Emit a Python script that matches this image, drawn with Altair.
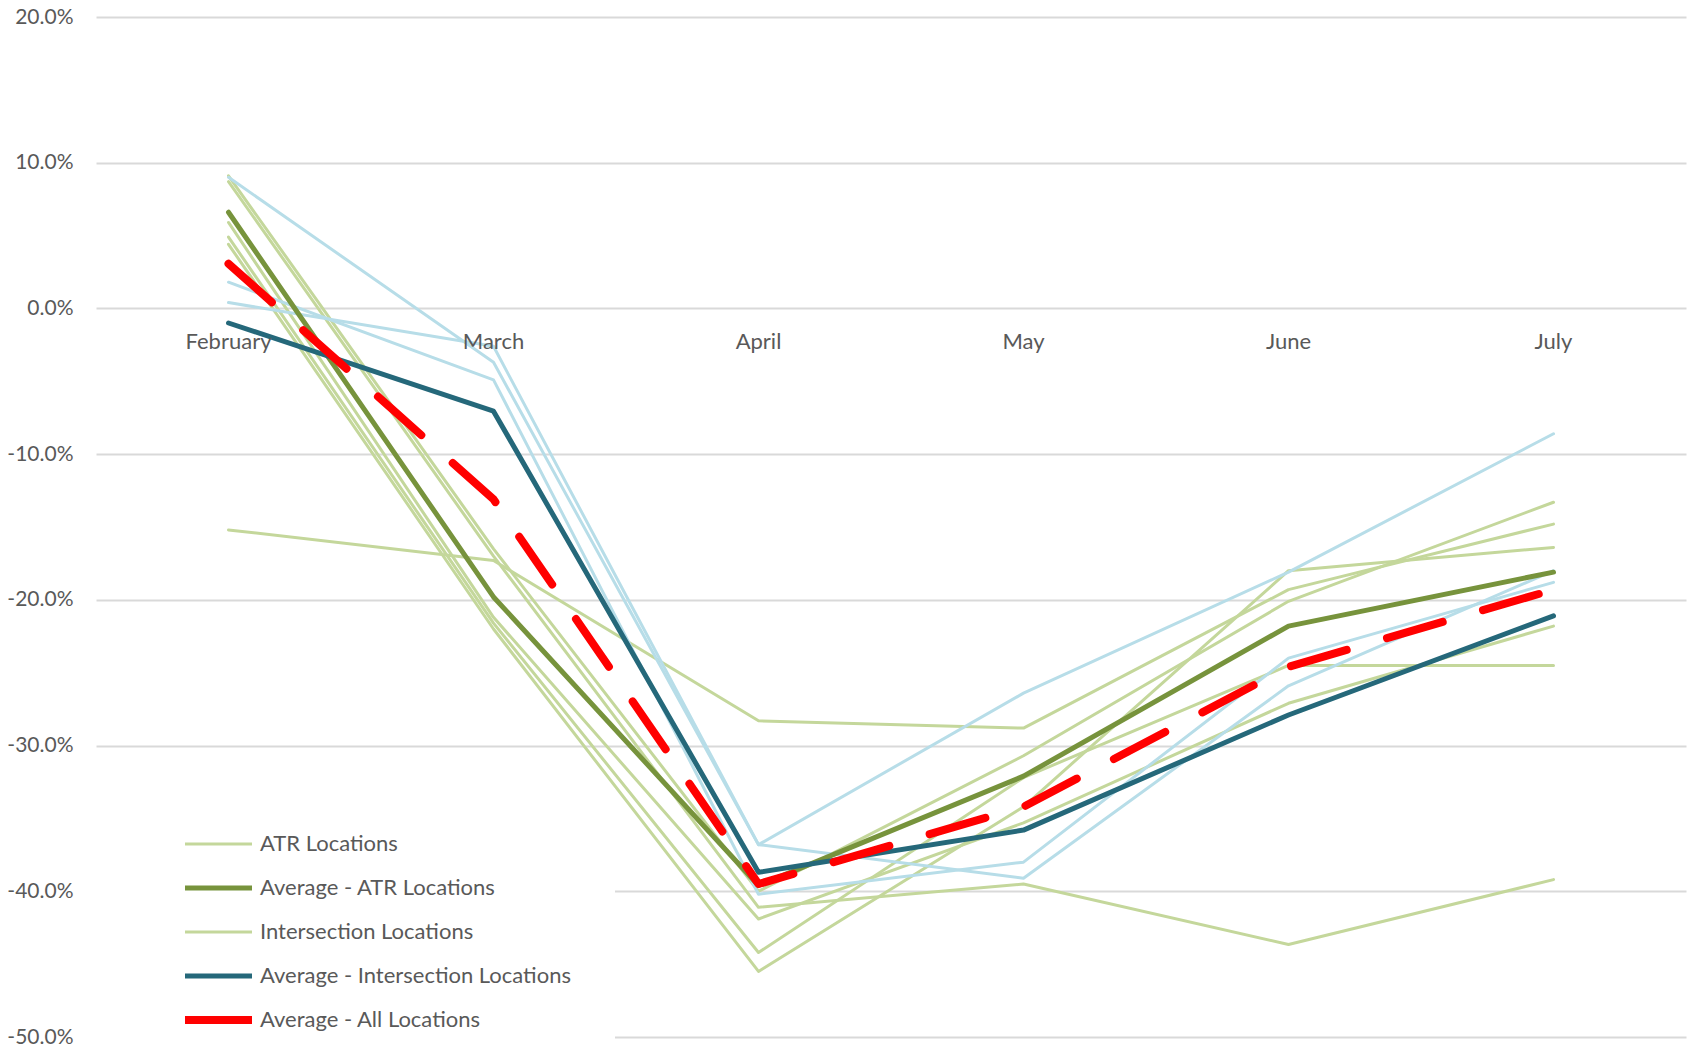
import altair as alt
import pandas as pd

months = ["February", "March", "April", "May", "June", "July"]

# Change in traffic volume versus the previous year, in percent
atr_a = [9.1, -16.5, -40.0, -30.7, -20.1, -13.3]
atr_b = [8.7, -17.0, -41.1, -39.5, -43.65, -39.2]
atr_c = [5.9, -21.2, -41.9, -35.3, -27.1, -21.8]
atr_d = [4.9, -21.6, -44.2, -32.2, -24.5, -24.5]
atr_e = [4.4, -22.0, -45.5, -34.2, -18.0, -16.4]

intersection_a = [-15.2, -17.3, -28.3, -28.8, -19.3, -14.8]
intersection_b = [9.0, -3.7, -36.8, -39.1, -25.9, -18.0]
intersection_c = [0.4, -2.6, -36.8, -26.4, -18.1, -8.6]
intersection_d = [1.8, -4.9, -40.2, -38.0, -24.0, -18.8]

avg_atr = [6.6, -19.8, -39.6, -32.1, -21.8, -18.1]
avg_intersection = [-1.0, -7.05, -38.7, -35.8, -27.9, -21.1]
avg_all = [3.07, -13.1, -39.5, -34.2, -24.6, -19.3]

series_names = [
    "ATR Locations",
    "Average - ATR Locations",
    "Intersection Locations",
    "Average - Intersection Locations",
    "Average - All Locations",
    "Intersection Locations (other)",
]
series_colors = ["#c4d79b", "#77933c", "#c4d79b", "#25687a", "#ff0000", "#b7dde8"]
series_widths = [3, 5, 3, 5, 8, 3]

lines = [
    ("atr_a", "ATR Locations", atr_a),
    ("atr_b", "ATR Locations", atr_b),
    ("atr_c", "ATR Locations", atr_c),
    ("atr_d", "ATR Locations", atr_d),
    ("atr_e", "ATR Locations", atr_e),
    ("intersection_a", "Intersection Locations", intersection_a),
    ("intersection_b", "Intersection Locations (other)", intersection_b),
    ("intersection_c", "Intersection Locations (other)", intersection_c),
    ("intersection_d", "Intersection Locations (other)", intersection_d),
    ("avg_atr", "Average - ATR Locations", avg_atr),
    ("avg_intersection", "Average - Intersection Locations", avg_intersection),
    ("avg_all", "Average - All Locations", avg_all),
]

rows = []
for line_id, series, values in lines:
    for month, v in zip(months, values):
        rows.append({"line": line_id, "series": series, "month": month, "change": v / 100})
df = pd.DataFrame(rows)

FONT = "Lato"
TEXT = "#595959"

x_enc = alt.X("month:N", sort=months, axis=None,
              scale=alt.Scale(type="point", padding=0.5))
y_enc = alt.Y("change:Q",
              scale=alt.Scale(domain=[-0.5, 0.2], nice=False, zero=False),
              axis=alt.Axis(values=[-0.5, -0.4, -0.3, -0.2, -0.1, 0, 0.1, 0.2],
                            labelExpr="replace(format(datum.value, '.1%'), '\u2212', '-')",
                            title=None, domain=False, ticks=False, labelPadding=23,
                            labelFont=FONT, labelFontSize=21, labelColor=TEXT,
                            gridColor="#d9d9d9", gridWidth=2))

legend = alt.Legend(
    values=series_names[:5], title=None, orient="none", legendX=-5, legendY=771,
    direction="vertical", symbolType="stroke", symbolSize=4489, symbolOffset=46,
    labelOffset=4, clipHeight=24, rowPadding=20, padding=44, fillColor="white",
    labelFont=FONT, labelFontSize=22, labelColor=TEXT, labelLimit=0,
)
color_enc = alt.Color("series:N", scale=alt.Scale(domain=series_names, range=series_colors),
                      legend=legend)
width_enc = alt.StrokeWidth("series:N",
                            scale=alt.Scale(type="ordinal", domain=series_names,
                                            range=series_widths),
                            legend=legend)

base = alt.Chart(df).encode(x=x_enc, y=y_enc, color=color_enc, strokeWidth=width_enc,
                            detail="line:N")

green_lines = base.transform_filter(
    alt.FieldOneOfPredicate(field="series", oneOf=["ATR Locations", "Intersection Locations"])
).mark_line(strokeCap="round", strokeJoin="round")

blue_lines = base.transform_filter(
    alt.datum.series == "Intersection Locations (other)"
).mark_line(strokeCap="round", strokeJoin="round")

group_avgs = base.transform_filter(
    alt.FieldOneOfPredicate(field="series",
                            oneOf=["Average - ATR Locations", "Average - Intersection Locations"])
).mark_line(strokeCap="round", strokeJoin="round")

all_avg = base.transform_filter(
    alt.datum.series == "Average - All Locations"
).mark_line(strokeCap="round", strokeJoin="round", strokeDash=[58, 42])

month_labels = alt.Chart(pd.DataFrame({"month": months})).mark_text(
    dy=34, font=FONT, fontSize=22, color=TEXT
).encode(x=x_enc, y=alt.datum(0), text="month:N")

chart = alt.layer(green_lines, blue_lines, group_avgs, all_avg, month_labels).properties(
    width=1590, height=1020,
    autosize=alt.AutoSizeParams(type="none"),
    padding={"left": 96, "top": 17, "right": 2, "bottom": 15},
    background="white",
).configure_view(stroke=None)

chart.save("out.html", embed_options={"renderer": "svg", "actions": False})
